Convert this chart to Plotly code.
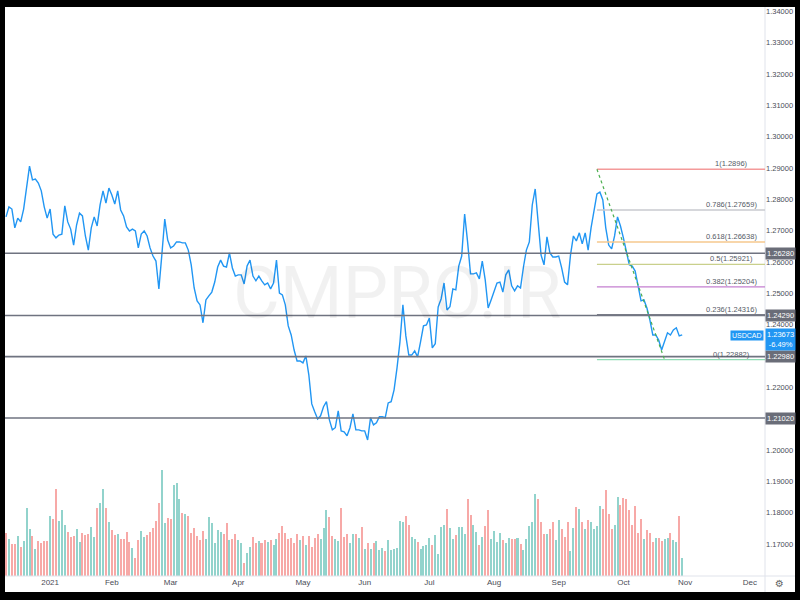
import numpy as np
import pandas as pd
import plotly.graph_objects as go

# ---------------- data ----------------
start_date = "2020-12-11"
end_date = "2021-10-29"
axis_end_date = "2021-12-31"

close = [
    1.2744, 1.2776, 1.2769, 1.2709, 1.2740, 1.2728, 1.2769, 1.2836, 1.2906, 1.2862,
    1.2865, 1.2852, 1.2827, 1.2776, 1.2740, 1.2769, 1.2689, 1.2677, 1.2686, 1.2689,
    1.2779, 1.2728, 1.2705, 1.2654, 1.2718, 1.2756, 1.2747, 1.2683, 1.2638, 1.2709,
    1.2744, 1.2715, 1.2782, 1.2827, 1.2788, 1.2836, 1.2814, 1.2785, 1.2827, 1.2766,
    1.2747, 1.2712, 1.2699, 1.2705, 1.2699, 1.2645, 1.2689, 1.2699, 1.2683, 1.2645,
    1.2619, 1.2603, 1.2514, 1.2622, 1.2737, 1.2670, 1.2645, 1.2651, 1.2664, 1.2664,
    1.2661, 1.2661, 1.2638, 1.2591, 1.2517, 1.2476, 1.2463, 1.2406, 1.2479, 1.2492,
    1.2504, 1.2536, 1.2584, 1.2606, 1.2587, 1.2584, 1.2629, 1.2581, 1.2555, 1.2559,
    1.2559, 1.2530, 1.2587, 1.2606, 1.2555, 1.2540, 1.2555, 1.2540, 1.2527, 1.2533,
    1.2514, 1.2533, 1.2606, 1.2501, 1.2495, 1.2463, 1.2396, 1.2367, 1.2319, 1.2284,
    1.2284, 1.2278, 1.2300, 1.2240, 1.2147, 1.2122, 1.2099, 1.2109, 1.2138, 1.2154,
    1.2096, 1.2064, 1.2071, 1.2125, 1.2061, 1.2058, 1.2045, 1.2071, 1.2115, 1.2064,
    1.2064, 1.2061, 1.2061, 1.2032, 1.2103, 1.2080, 1.2087, 1.2106, 1.2106, 1.2103,
    1.2150, 1.2154, 1.2192, 1.2262, 1.2345, 1.2463, 1.2364, 1.2303, 1.2303, 1.2316,
    1.2297, 1.2345, 1.2396, 1.2399, 1.2421, 1.2326, 1.2339, 1.2457, 1.2482, 1.2533,
    1.2447, 1.2457, 1.2514, 1.2511, 1.2587, 1.2619, 1.2753, 1.2664, 1.2562, 1.2562,
    1.2565, 1.2546, 1.2603, 1.2543, 1.2453, 1.2479, 1.2508, 1.2533, 1.2536, 1.2504,
    1.2559, 1.2575, 1.2524, 1.2508, 1.2524, 1.2517, 1.2584, 1.2638, 1.2664, 1.2782,
    1.2833, 1.2725, 1.2622, 1.2591, 1.2680, 1.2629, 1.2616, 1.2616, 1.2619, 1.2581,
    1.2536, 1.2527, 1.2622, 1.2683, 1.2667, 1.2693, 1.2658, 1.2693, 1.2638, 1.2709,
    1.2766, 1.2817, 1.2823, 1.2798, 1.2709, 1.2654, 1.2642, 1.2683, 1.2744, 1.2715,
    1.2677, 1.2635, 1.2591, 1.2587, 1.2571, 1.2524, 1.2476, 1.2479, 1.2453, 1.2415,
    1.2367, 1.2367, 1.2351, 1.2319, 1.2345, 1.2374, 1.2367, 1.2383, 1.2390, 1.2364,
    1.23673,
]

volume = [
    43, 37, 32, 32, 40, 29, 35, 68, 47, 40, 27, 35, 33, 35, 35, 60, 57, 87, 55, 66,
    51, 44, 39, 40, 47, 34, 43, 41, 42, 49, 39, 68, 73, 87, 68, 54, 46, 41, 42, 37,
    37, 44, 34, 28, 18, 36, 45, 39, 41, 44, 48, 55, 73, 106, 53, 58, 57, 91, 93, 77,
    63, 62, 60, 43, 48, 40, 36, 45, 37, 59, 53, 33, 46, 44, 42, 53, 36, 37, 42, 36,
    33, 13,
    23, 29, 39, 33, 35, 33, 36, 34, 36, 31, 37, 43, 50, 43, 37, 38, 33, 42, 36, 40,
    31, 40, 29, 38, 42, 37, 48, 66, 59, 40, 37, 35, 68, 39, 42, 33, 42, 42, 38, 49,
    27, 33, 27, 33, 35, 26, 28, 25, 36, 26, 27, 28, 55, 54, 60, 51, 39, 37, 34, 27,
    30, 31, 38, 31, 41, 22, 49, 51, 67, 48, 37, 41, 49, 49, 42, 77, 61, 51,
    44, 31, 39, 50, 66, 37, 45, 34, 43, 36, 33, 38, 37, 37, 38, 32, 26, 37, 50, 54,
    82, 77, 54, 42, 42, 47, 54, 36, 56, 47, 39, 54, 25, 48, 69, 67, 54, 47, 56, 54,
    47, 50, 70, 67, 86, 62, 47, 51, 79, 71, 78, 77, 66, 51, 70, 43, 57, 37, 46, 43,
    34, 38, 38, 35, 37, 38, 43, 36, 34, 60, 18,
]

month_labels = ["2021", "Feb", "Mar", "Apr", "May", "Jun", "Jul", "Aug", "Sep", "Oct", "Nov", "Dec"]
price_ticks = [1.17, 1.18, 1.19, 1.20, 1.21, 1.22, 1.23, 1.24, 1.25, 1.26,
               1.27, 1.28, 1.29, 1.30, 1.31, 1.32, 1.33, 1.34]
level_prices = [1.2628, 1.2429, 1.2298, 1.2102]
fib_high = 1.2896
fib_low = 1.22882
fib_high_date = "2021-09-20"
fib_low_date = "2021-10-21"
fib_ratios = [1, 0.786, 0.618, 0.5, 0.382, 0.236, 0]
symbol = "USDCAD"
last_price = 1.23673
change_pct = -6.49
watermark = "CMPRO.IR"

# ---------------- styles ----------------
FONT = "Liberation Sans, Arial, sans-serif"
LINE_BLUE = "#2196f3"
UP_COL = "#92d3cc"
DOWN_COL = "#f7a9a7"
LEVEL_COL = "#6f7380"
LABEL_BG = "#6a6d78"
TICK_COL = "#4a4d57"
fib_colors = ["#f49a9a", "#c8cacf", "#f6c98e", "#c9d08c", "#c47fd0", "#787b86", "#8fdcb4"]

W, H = 800, 600
ML, MR, MT, MB = 5, 35, 7, 24
plot_w = W - ML - MR
plot_h = H - MT - MB

dates = pd.bdate_range(start_date, end_date)
assert len(dates) == len(close) == len(volume), (len(dates), len(close), len(volume))
idx = np.arange(len(dates))

all_days = pd.bdate_range(start_date, axis_end_date)
first_of_month = []
seen = set()
for i, d in enumerate(all_days):
    key = (d.year, d.month)
    if key not in seen:
        seen.add(key)
        first_of_month.append(i)
tickvals = first_of_month[1:1 + len(month_labels)]

px_per_bar = 2.94
x_start = -1.0 / px_per_bar
x_end = x_start + plot_w / px_per_bar

y_lo, y_hi = 1.15977, 1.34139

up = [False] + [close[i] >= close[i - 1] for i in range(1, len(close))]
vol_colors = [UP_COL if u else DOWN_COL for u in up]

fib_x0 = int(dates.get_loc(pd.Timestamp(fib_high_date)))
fib_x1 = int(dates.get_loc(pd.Timestamp(fib_low_date)))

fig = go.Figure()
fig.add_trace(go.Bar(
    x=idx, y=volume, marker=dict(color=vol_colors, line=dict(width=0)),
    width=0.68, yaxis="y2", hoverinfo="skip",
))
fig.add_trace(go.Scatter(
    x=idx, y=close, mode="lines", line=dict(color=LINE_BLUE, width=1.4),
))

shapes = []
annotations = []

bottom_frame = -(592 - (H - MB)) / plot_h
right_frame = (795 - ML) / plot_w

# white chart background inside black frame
shapes.append(dict(type="rect", xref="paper", yref="paper", x0=0, x1=right_frame,
                   y0=bottom_frame, y1=1, fillcolor="white",
                   line=dict(width=0), layer="below"))
# separators
shapes.append(dict(type="line", xref="paper", yref="paper", x0=1, x1=1,
                   y0=bottom_frame, y1=1, line=dict(color="#e0e3eb", width=1)))
shapes.append(dict(type="line", xref="paper", yref="paper", x0=0, x1=right_frame,
                   y0=0, y1=0, line=dict(color="#e0e3eb", width=1)))

# support / resistance levels
for p in level_prices:
    shapes.append(dict(type="line", xref="paper", yref="y", x0=0, x1=1, y0=p, y1=p,
                       line=dict(color=LEVEL_COL, width=1.6)))
    annotations.append(dict(xref="paper", yref="y", x=1, y=p, xanchor="left", yanchor="middle",
                            text=f"{p:.5f}", showarrow=False, bgcolor=LABEL_BG, borderpad=1,
                            font=dict(family=FONT, size=7.5, color="white")))

# fibonacci retracement
rng = fib_high - fib_low
for r, col in zip(fib_ratios, fib_colors):
    v = fib_low + r * rng
    shapes.append(dict(type="line", xref="x", yref="y", x0=fib_x0, x1=x_end, y0=v, y1=v,
                       line=dict(color=col, width=1.3)))
    vtxt = f"{v:.5f}".rstrip("0")
    annotations.append(dict(xref="paper", yref="y", x=(731 - ML) / plot_w, y=v,
                            xanchor="center", yanchor="bottom", yshift=-1,
                            text=f"{r:g}({vtxt})", showarrow=False,
                            font=dict(family=FONT, size=7.5, color="#555a66")))
shapes.append(dict(type="line", xref="x", yref="y", x0=fib_x0, x1=fib_x1, y0=fib_high, y1=fib_low,
                   line=dict(color="#4caf50", width=1.2, dash="dot")))

# last price labels
annotations.append(dict(xref="paper", yref="y", x=1, y=last_price, xanchor="right", yanchor="middle",
                        xshift=-1, yshift=-1, text=symbol, showarrow=False, bgcolor=LINE_BLUE, borderpad=1,
                        font=dict(family=FONT, size=7, color="white")))
annotations.append(dict(xref="paper", yref="y", x=1, y=last_price, xanchor="left", yanchor="middle",
                        yshift=-5, text=f"{last_price:.5f}<br>{change_pct:.2f}%", showarrow=False,
                        bgcolor=LINE_BLUE, borderpad=1, align="center",
                        font=dict(family=FONT, size=7.5, color="white")))

# watermark
annotations.append(dict(xref="paper", yref="paper", x=(397 - ML) / plot_w, y=1 - (293 - MT) / plot_h,
                        text=watermark, showarrow=False, xanchor="center", yanchor="middle",
                        font=dict(family="Roboto, Liberation Sans, sans-serif", size=72,
                                  color="rgba(0,0,0,0.055)")))
# settings gear
annotations.append(dict(xref="paper", yref="paper", x=(779 - ML) / plot_w, y=-(584 - (H - MB)) / plot_h,
                        text="\u2699", showarrow=False, xanchor="center", yanchor="middle",
                        font=dict(family="DejaVu Sans", size=10, color="#666")))

fig.update_layout(
    width=W, height=H,
    margin=dict(l=ML, r=MR, t=MT, b=MB, pad=0, autoexpand=False),
    paper_bgcolor="black", plot_bgcolor="white",
    showlegend=False,
    bargap=0,
    font=dict(family=FONT, size=7.5, color=TICK_COL),
    xaxis=dict(range=[x_start, x_end], tickmode="array", tickvals=tickvals, ticktext=month_labels,
               showgrid=False, zeroline=False, showline=False, ticks="", automargin=False,
               tickfont=dict(family=FONT, size=8, color=TICK_COL)),
    yaxis=dict(side="right", range=[y_lo, y_hi], tickmode="array", tickvals=price_ticks,
               tickformat=".5f", showgrid=False, zeroline=False, showline=False, ticks="",
               automargin=False, tickfont=dict(family=FONT, size=7.5, color=TICK_COL)),
    yaxis2=dict(overlaying="y", range=[0, max(volume) * plot_h / 106], visible=False),
    shapes=shapes,
    annotations=annotations,
)

fig.write_html(
    "out.html",
    config=dict(displayModeBar=False),
    post_script="document.body.style.margin='0';document.body.style.background='black';",
)
